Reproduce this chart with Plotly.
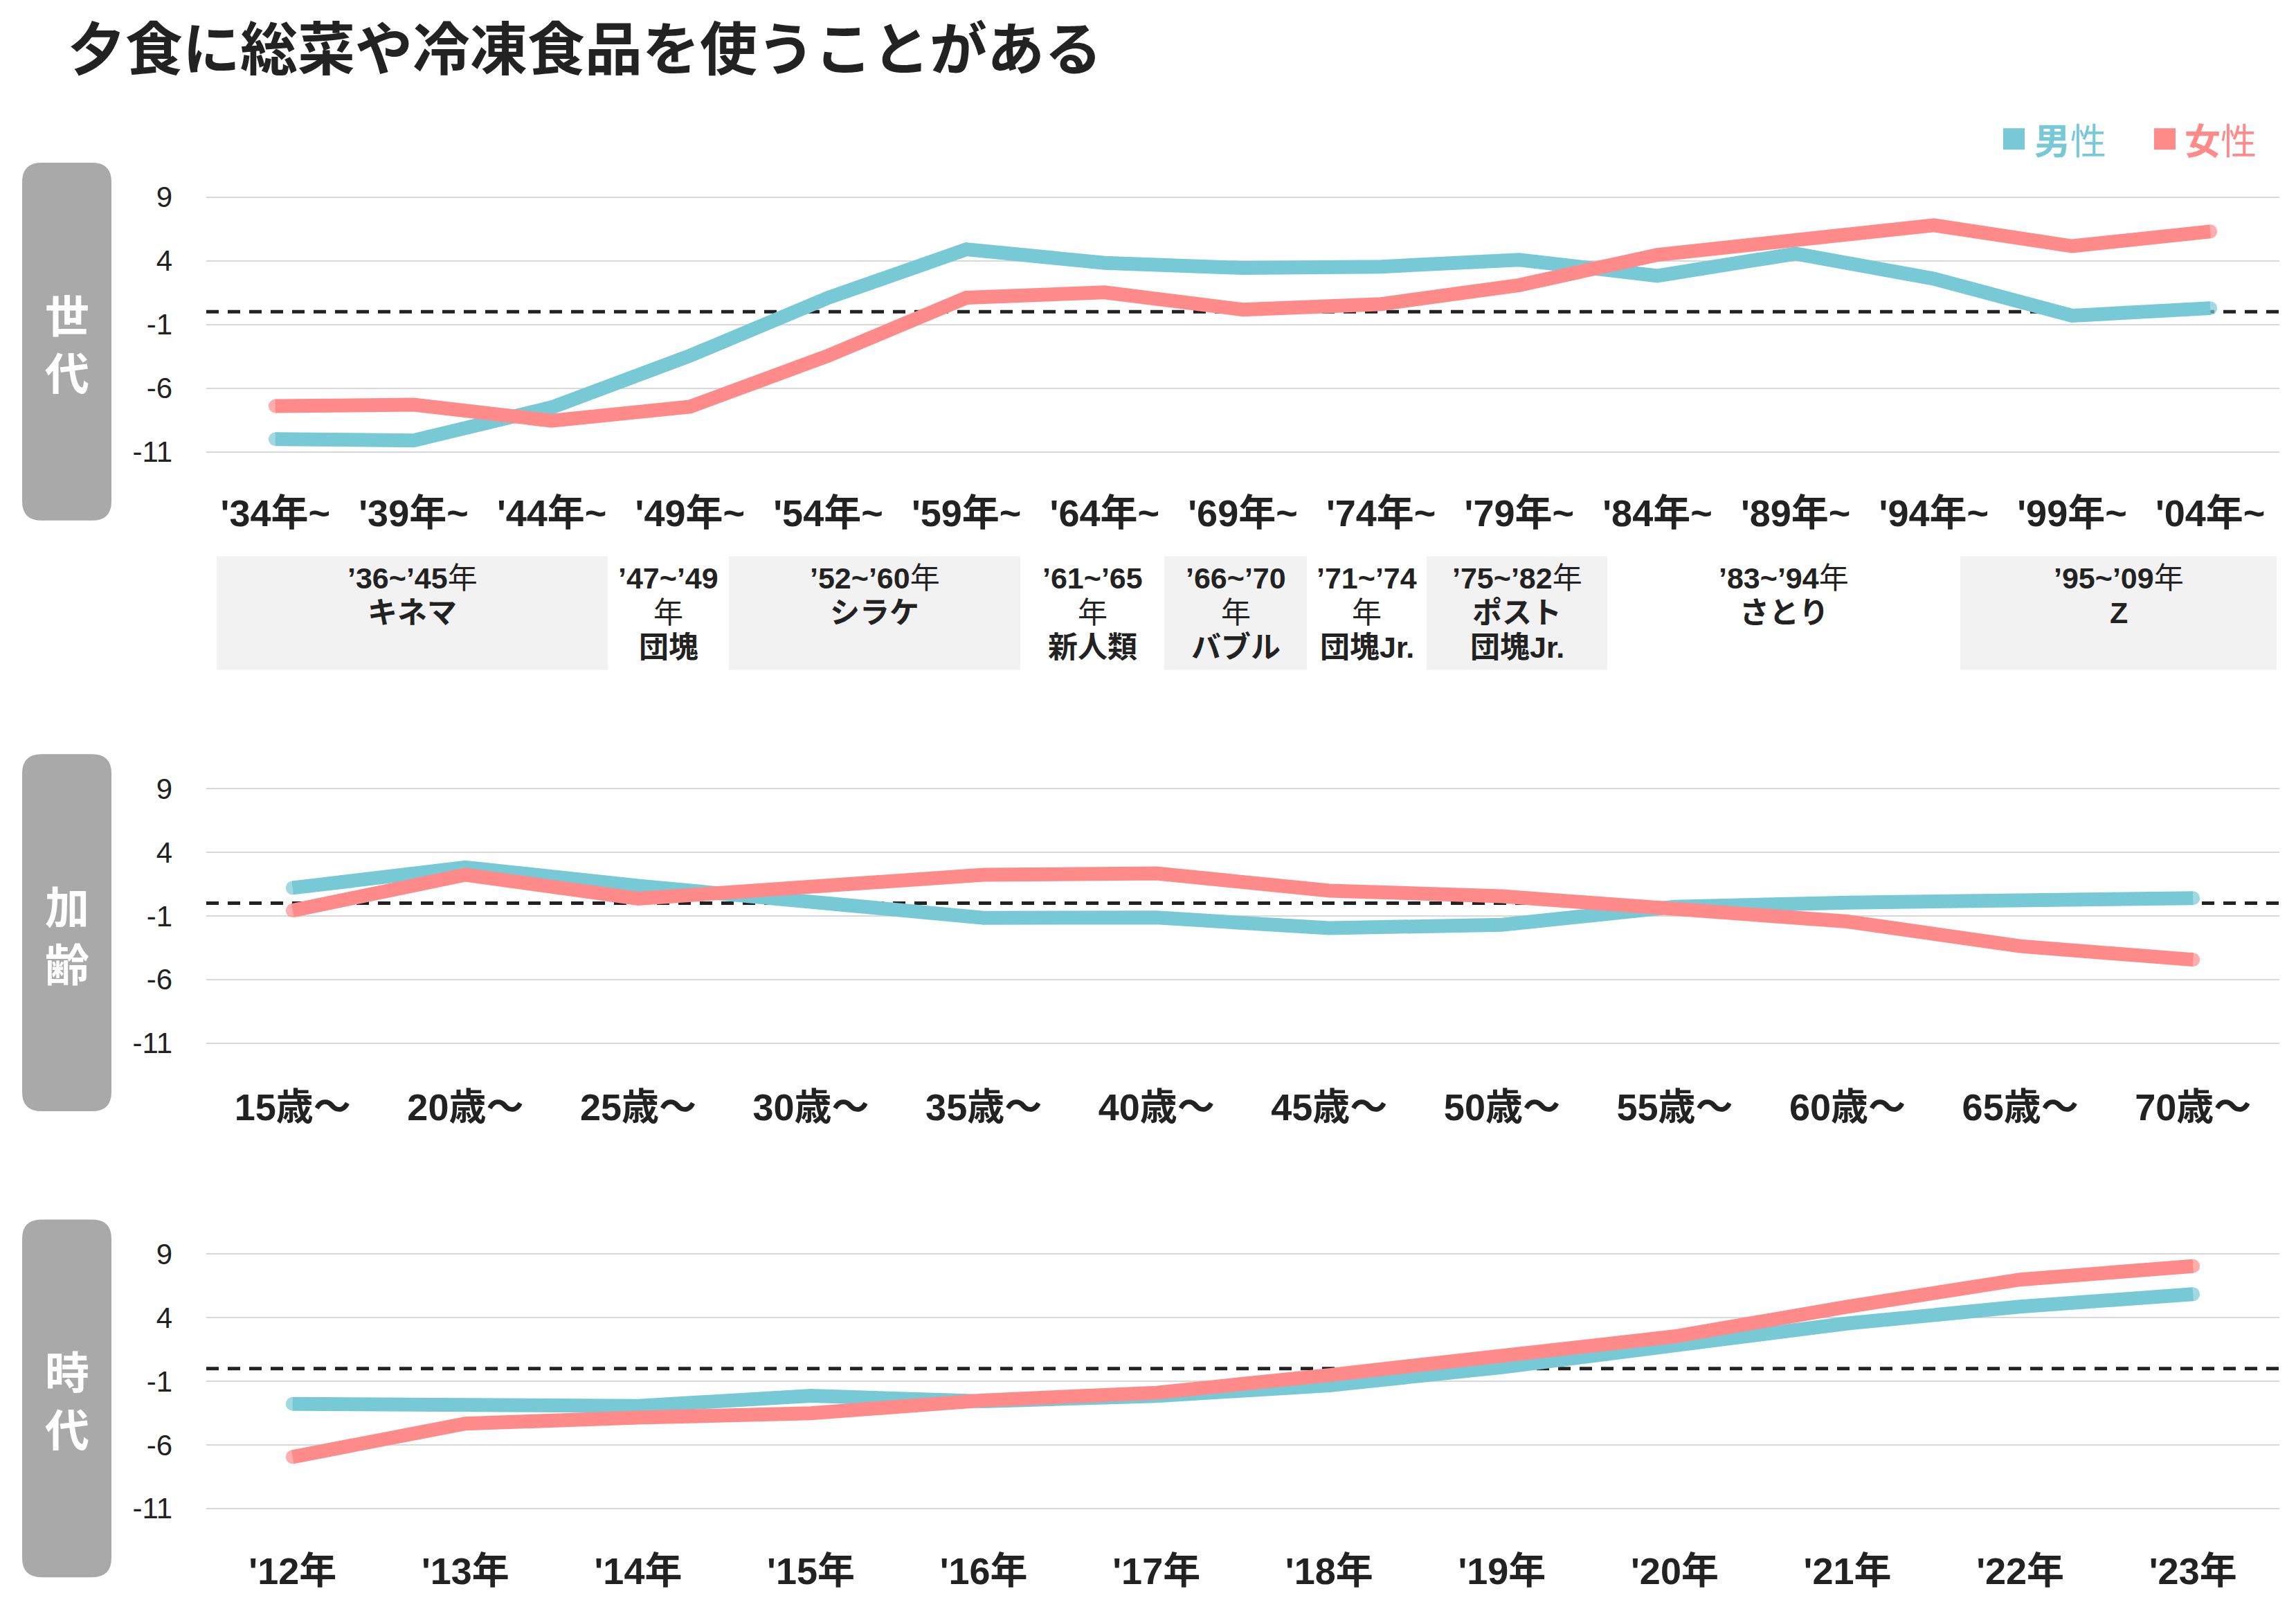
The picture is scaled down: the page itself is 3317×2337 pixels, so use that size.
import plotly.graph_objects as go

W, H = 3317, 2337

# ---------------- data ----------------
gen_labels = ["'34年~", "'39年~", "'44年~", "'49年~", "'54年~", "'59年~", "'64年~", "'69年~",
              "'74年~", "'79年~", "'84年~", "'89年~", "'94年~", "'99年~", "'04年~"]
gen_male = [-10.0, -10.1, -7.5, -3.45, 1.1, 4.9, 3.83, 3.44, 3.54, 4.08, 2.82, 4.56, 2.59, -0.31, 0.28]
gen_female = [-7.4, -7.3, -8.55, -7.45, -3.45, 1.1, 1.52, 0.17, 0.6, 2.09, 4.47, 5.76, 6.79, 5.15, 6.3]

age_labels = ["15歳～", "20歳～", "25歳～", "30歳～", "35歳～", "40歳～",
              "45歳～", "50歳～", "55歳～", "60歳～", "65歳～", "70歳～"]
age_male = [1.21, 2.82, 1.37, 0.2, -1.15, -1.13, -1.96, -1.69, -0.28, 0.05, 0.32, 0.4]
age_female = [-0.57, 2.24, 0.36, 1.37, 2.24, 2.35, 0.99, 0.55, -0.34, -1.44, -3.38, -4.44]

year_labels = ["'12年", "'13年", "'14年", "'15年", "'16年", "'17年",
               "'18年", "'19年", "'20年", "'21年", "'22年", "'23年"]
year_male = [-2.78, -2.94, -2.94, -2.14, -2.58, -2.15, -1.32, 0.1, 1.93, 3.55, 4.87, 5.85]
year_female = [-6.95, -4.33, -3.86, -3.51, -2.5, -1.9, -0.51, 0.91, 2.53, 4.87, 7.0, 8.06]

y_ticks = [-11, -6, -1, 4, 9]

panel_names = ["世代", "加齢", "時代"]
series_names = ["男性", "女性"]

gen_cell_texts = [
    "<b>’36~’45</b>年\n<b>キネマ</b>",
    "<b>’47~’49</b>\n年\n<b>団塊</b>",
    "<b>’52~’60</b>年\n<b>シラケ</b>",
    "<b>’61~’65</b>\n年\n<b>新人類</b>",
    "<b>’66~’70</b>\n年\n<b>バブル</b>",
    "<b>’71~’74</b>\n年\n<b>団塊Jr.</b>",
    "<b>’75~’82</b>年\n<b>ポスト</b>\n<b>団塊Jr.</b>",
    "<b>’83~’94</b>年\n<b>さとり</b>",
    "<b>’95~’09</b>年\n<b>Z</b>",
]

# ---------------- style / layout ----------------
BLUE = "#78C9D6"
RED = "#FF8A8A"
TXT = "#222222"
GRID = "#D9D9D9"
BOX = "#A9A9A9"
CELL = "#F2F2F2"
LAT = "Liberation Sans, Arial, Noto Sans CJK JP, sans-serif"
CJK = "Noto Sans CJK JP, sans-serif"

cell_edges = [313, 878, 1053, 1474, 1682, 1888, 2061, 2322, 2832, 3289]
cell_fill = [True, False, True, False, True, False, True, False, True]


def fx(px):
    return px / W


def fy(py):
    return 1 - py / H


X_DOM = [fx(298), fx(3293)]
YR = [-12, 10]
panels = [
    dict(zero=447.2, unit=18.48, labels=gen_labels, m=gen_male, f=gen_female, box=(231, 750), standoff=34),
    dict(zero=1305.2, unit=18.44, labels=age_labels, m=age_male, f=age_female, box=(1089, 1607), standoff=38),
    dict(zero=1980.2, unit=18.44, labels=year_labels, m=year_male, f=year_female, box=(1764, 2283), standoff=36),
]

fig = go.Figure()
shapes = []
annotations = []

for i, p in enumerate(panels):
    k = "" if i == 0 else str(i + 1)
    xa, ya = "x" + k, "y" + k
    n = len(p["labels"])
    xs = list(range(n))
    ends = [20] + [0] * (n - 2) + [20]
    for vals, col, nm in ((p["m"], BLUE, series_names[0]), (p["f"], RED, series_names[1])):
        fig.add_trace(go.Scatter(
            x=xs, y=vals, mode="lines+markers", name=nm, showlegend=False,
            line=dict(color=col, width=20),
            marker=dict(size=ends, color=col, line=dict(width=0)),
            xaxis=xa, yaxis=ya, cliponaxis=False))
    bot = p["zero"] - YR[0] * p["unit"]
    top = p["zero"] - YR[1] * p["unit"]
    fig.layout["xaxis" + k] = dict(
        domain=X_DOM, anchor=ya, range=[-0.5, n - 0.5],
        tickmode="array", tickvals=xs, ticktext=p["labels"],
        showgrid=False, zeroline=False, showline=False, ticks="",
        tickfont=dict(family=LAT, size=54, color=TXT, weight="bold"),
        ticklabelstandoff=p["standoff"])
    fig.layout["yaxis" + k] = dict(
        domain=[fy(bot), fy(top)], anchor=xa, range=YR,
        tickmode="array", tickvals=y_ticks, ticktext=[str(v) for v in y_ticks],
        showgrid=True, gridcolor=GRID, gridwidth=2, zeroline=False, showline=False,
        ticks="", tickfont=dict(family=LAT, size=42, color=TXT),
        ticklabelstandoff=48)
    # dashed zero reference line (axis-domain wide)
    shapes.append(dict(type="line", xref="paper", yref=ya, x0=X_DOM[0], x1=X_DOM[1], y0=0, y1=0,
                       line=dict(color=TXT, width=5, dash="18px,13px"), layer="below"))
    # rounded gray label box
    x0, x1 = 32, 161
    y0, y1 = p["box"]
    r = 28
    pts = lambda a, b: f"{fx(a):.5f},{fy(b):.5f}"
    path = (f"M {pts(x0 + r, y0)} L {pts(x1 - r, y0)} Q {pts(x1, y0)} {pts(x1, y0 + r)} "
            f"L {pts(x1, y1 - r)} Q {pts(x1, y1)} {pts(x1 - r, y1)} "
            f"L {pts(x0 + r, y1)} Q {pts(x0, y1)} {pts(x0, y1 - r)} "
            f"L {pts(x0, y0 + r)} Q {pts(x0, y0)} {pts(x0 + r, y0)} Z")
    shapes.append(dict(type="path", path=path, xref="paper", yref="paper",
                       fillcolor=BOX, line=dict(width=0), layer="below"))
    cy = (y0 + y1) / 2
    annotations.append(dict(text="<b>" + "<br>".join(panel_names[i]) + "</b>",
                            x=fx(96.5), y=fy(cy), xref="paper", yref="paper", showarrow=False,
                            xanchor="center", yanchor="middle", align="center",
                            font=dict(family=CJK, size=64, color="white")))

# generation cells under the top panel
for c in range(len(gen_cell_texts)):
    a, b = cell_edges[c], cell_edges[c + 1]
    if cell_fill[c]:
        shapes.append(dict(type="rect", xref="paper", yref="paper",
                           x0=fx(a), x1=fx(b), y0=fy(967), y1=fy(802),
                           fillcolor=CELL, line=dict(width=0), layer="below"))
    for j, line in enumerate(gen_cell_texts[c].split("\n")):
        annotations.append(dict(text=line, x=fx((a + b) / 2), y=fy(834 + 50 * j),
                                xref="paper", yref="paper", showarrow=False,
                                xanchor="center", yanchor="middle",
                                font=dict(family=LAT, size=43, color=TXT)))

# title
annotations.append(dict(text="<b>夕食に総菜や冷凍食品を使うことがある</b>", x=fx(96), y=fy(60),
                        xref="paper", yref="paper", showarrow=False, xanchor="left", yanchor="middle",
                        font=dict(family=CJK, size=83, color=TXT)))

# legend
for (sq0, tx0), col, nm in (((2894, 2937), BLUE, series_names[0]), ((3112, 3154), RED, series_names[1])):
    shapes.append(dict(type="rect", xref="paper", yref="paper", x0=fx(sq0), x1=fx(sq0 + 31),
                       y0=fy(212), y1=fy(181), fillcolor=col, line=dict(width=0)))
    annotations.append(dict(text=f"<b>{nm[0]}</b>{nm[1]}", x=fx(tx0), y=fy(196), xref="paper", yref="paper",
                            showarrow=False, xanchor="left", yanchor="middle",
                            font=dict(family=CJK, size=52, color=col)))

fig.update_layout(width=W, height=H, margin=dict(l=0, r=0, t=0, b=0),
                  paper_bgcolor="white", plot_bgcolor="white",
                  shapes=shapes, annotations=annotations, showlegend=False)

fig.write_html("out.html")
